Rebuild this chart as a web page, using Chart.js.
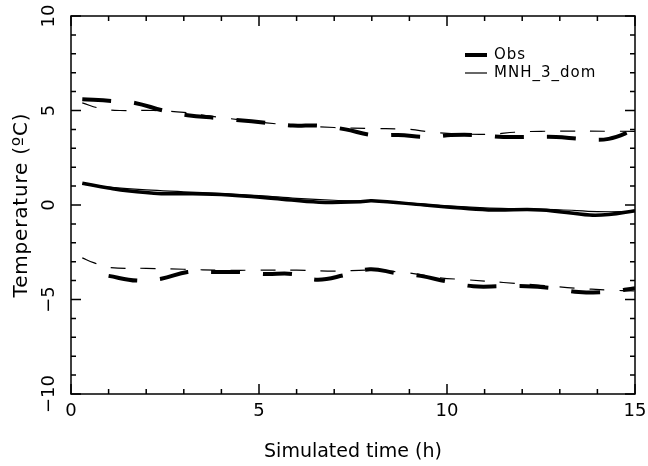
<!DOCTYPE html>
<html>
<head>
<meta charset="utf-8">
<script src="https://cdn.jsdelivr.net/npm/chart.js@4/dist/chart.umd.min.js"></script>
<style>
  html, body { margin: 0; padding: 0; background: #fff; }
  #wrap { width: 648px; height: 466px; }
</style>
</head>
<body>
<div id="wrap"><canvas id="tempChart" width="648" height="466"></canvas></div>
<script>
// mean temperature (solid lines)
const meanTimeObs = [0.3, 1, 1.5, 2.4, 3, 4.2, 5.4, 6.6, 7.7, 8, 9.4, 10, 11.1, 12.5, 13.8, 14.3, 15];
const obsMean = [1.15, 0.9, 0.75, 0.6, 0.6, 0.53, 0.35, 0.15, 0.17, 0.22, 0.0, -0.1, -0.26, -0.26, -0.53, -0.5, -0.3];
const meanTimeMnh = [0.3, 1, 2, 3, 4, 5, 6, 7, 8, 9, 10, 11, 12, 13, 14, 15];
const mnhMean = [1.1, 0.95, 0.8, 0.7, 0.6, 0.5, 0.35, 0.25, 0.2, 0.1, -0.05, -0.15, -0.2, -0.25, -0.35, -0.35];

// upper envelope (dashed)
const upperTimeObs = [0.3, 1.1, 1.7, 2.45, 3.1, 3.9, 4.4, 5.2, 5.9, 6.6, 7.3, 8, 8.7, 9.5, 10.1, 10.8, 11.5, 12.3, 12.9, 13.6, 14.3, 15];
const obsUpper = [5.6, 5.5, 5.4, 5.0, 4.75, 4.6, 4.5, 4.35, 4.2, 4.2, 4.0, 3.7, 3.7, 3.6, 3.7, 3.7, 3.6, 3.6, 3.6, 3.5, 3.5, 4.0];
const upperTimeMnh = [0.3, 0.8, 1.3, 2.2, 3, 3.7, 5.2, 6, 7, 8, 9, 9.6, 10.5, 11.2, 11.8, 12.5, 15];
const mnhUpper = [5.4, 5.1, 5.0, 5.0, 4.9, 4.7, 4.35, 4.2, 4.1, 4.05, 4.0, 3.85, 3.75, 3.75, 3.85, 3.9, 3.9];

// lower envelope (dashed)
const lowerTimeObs = [1, 1.75, 2.4, 3.1, 3.75, 4.55, 5.15, 5.9, 6.55, 7.3, 7.95, 8.65, 9.3, 10, 10.7, 11.45, 12.1, 12.8, 13.5, 14.25, 15];
const obsLower = [-3.75, -4.0, -3.9, -3.55, -3.55, -3.55, -3.65, -3.65, -3.95, -3.7, -3.4, -3.6, -3.75, -4.05, -4.3, -4.3, -4.3, -4.4, -4.6, -4.6, -4.4];
const lowerTimeMnh = [0.3, 0.6, 1, 2, 3, 4, 5, 6, 7, 8, 9, 9.8, 10.5, 11.5, 12.5, 13.4, 14.3, 15];
const mnhLower = [-2.8, -3.05, -3.3, -3.35, -3.4, -3.45, -3.45, -3.45, -3.5, -3.45, -3.6, -3.85, -3.95, -4.1, -4.25, -4.4, -4.5, -4.55];

// axis ticks
const xTickLabels = [0, 5, 10, 15];
const yTickLabels = [-10, -5, 0, 5, 10];

const legendLabels = ['Obs', 'MNH_3_dom'];

const pairs = (xs, ys) => xs.map((x, i) => ({ x: x, y: ys[i] }));

const thick = { borderColor: '#000', borderWidth: 4, pointRadius: 0, tension: 0.4, fill: false };
const thin = { borderColor: '#000', borderWidth: 1.2, pointRadius: 0, tension: 0.4, fill: false };

const FONT = '"DejaVu Sans", sans-serif';

// frame, inward ticks, rotated y labels, titles and legend
const framePlugin = {
  id: 'frame',
  afterDraw(chart) {
    const ctx = chart.ctx;
    const a = chart.chartArea;
    const xs = chart.scales.x;
    const ys = chart.scales.y;
    ctx.save();
    ctx.strokeStyle = '#000';
    ctx.fillStyle = '#000';
    ctx.lineWidth = 1.5;
    ctx.strokeRect(a.left, a.top, a.right - a.left, a.bottom - a.top);

    ctx.beginPath();
    for (let v = 0; v <= 15; v++) {
      const px = xs.getPixelForValue(v);
      const len = v % 5 === 0 ? 10 : 5;
      ctx.moveTo(px, a.bottom); ctx.lineTo(px, a.bottom - len);
      ctx.moveTo(px, a.top); ctx.lineTo(px, a.top + len);
    }
    for (let v = -10; v <= 10; v++) {
      const py = ys.getPixelForValue(v);
      const len = v % 5 === 0 ? 10 : 5;
      ctx.moveTo(a.left, py); ctx.lineTo(a.left + len, py);
      ctx.moveTo(a.right, py); ctx.lineTo(a.right - len, py);
    }
    ctx.stroke();

    // tick labels
    ctx.font = '18px ' + FONT;
    ctx.textAlign = 'center';
    ctx.textBaseline = 'middle';
    xTickLabels.forEach(v => {
      ctx.fillText(String(v), xs.getPixelForValue(v), a.bottom + 17);
    });
    yTickLabels.forEach(v => {
      ctx.save();
      ctx.translate(a.left - 22, ys.getPixelForValue(v));
      ctx.rotate(-Math.PI / 2);
      ctx.fillText(String(v).replace('-', '\u2212'), 0, 0);
      ctx.restore();
    });

    // axis titles
    ctx.font = '19px ' + FONT;
    ctx.fillText('Simulated time (h)', (a.left + a.right) / 2, 452);
    ctx.save();
    ctx.font = '20px ' + FONT;
    ctx.letterSpacing = '0.8px';
    ctx.translate(22, (a.top + a.bottom) / 2);
    ctx.rotate(-Math.PI / 2);
    ctx.fillText('Temperature (\u00baC)', 0, 0);
    ctx.restore();

    // legend
    ctx.font = '15px ' + FONT;
    ctx.letterSpacing = '1px';
    ctx.textAlign = 'left';
    ctx.lineWidth = 4;
    ctx.beginPath(); ctx.moveTo(465, 55); ctx.lineTo(487, 55); ctx.stroke();
    ctx.fillText(legendLabels[0], 494, 55);
    ctx.lineWidth = 1.2;
    ctx.beginPath(); ctx.moveTo(465, 73); ctx.lineTo(487, 73); ctx.stroke();
    ctx.fillText(legendLabels[1], 494, 73);
    ctx.restore();
  }
};

new Chart(document.getElementById('tempChart'), {
  type: 'line',
  data: {
    datasets: [
      Object.assign({ label: 'Obs', data: pairs(meanTimeObs, obsMean) }, thick, { borderWidth: 3.5 }),
      Object.assign({ label: 'MNH_3_dom', data: pairs(meanTimeMnh, mnhMean) }, thin),
      Object.assign({ label: 'Obs max', data: pairs(upperTimeObs, obsUpper), borderDash: [29, 23] }, thick),
      Object.assign({ label: 'MNH max', data: pairs(upperTimeMnh, mnhUpper), borderDash: [15, 15] }, thin),
      Object.assign({ label: 'Obs min', data: pairs(lowerTimeObs, obsLower), borderDash: [29, 23] }, thick),
      Object.assign({ label: 'MNH min', data: pairs(lowerTimeMnh, mnhLower), borderDash: [15, 15] }, thin)
    ]
  },
  options: {
    responsive: false,
    animation: false,
    layout: { padding: { top: 16, right: 13, left: 0, bottom: 0 } },
    plugins: { legend: { display: false }, tooltip: { enabled: false } },
    scales: {
      x: {
        type: 'linear', min: 0, max: 15,
        ticks: { display: false },
        grid: { display: false },
        border: { display: false },
        afterFit: s => { s.height = 72; }
      },
      y: {
        type: 'linear', min: -10, max: 10,
        ticks: { display: false },
        grid: { display: false },
        border: { display: false },
        afterFit: s => { s.width = 71; }
      }
    }
  },
  plugins: [framePlugin]
});
</script>
</body>
</html>
